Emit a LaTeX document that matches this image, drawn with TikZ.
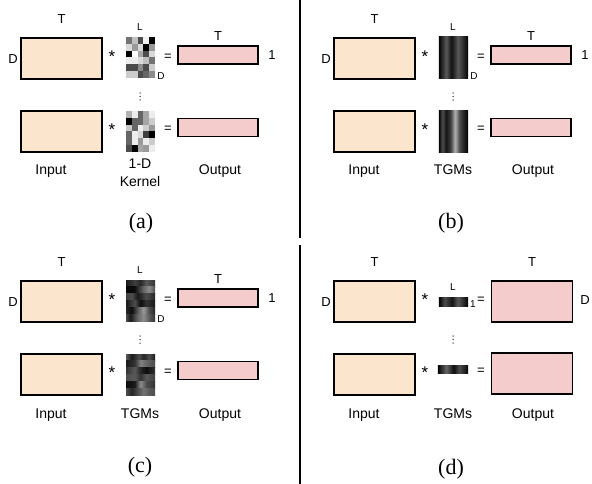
\documentclass[tikz,border=0pt]{standalone}
\usepackage{fontspec}
\setmainfont{Liberation Sans}
\newfontfamily\capfont{Liberation Serif}
\definecolor{infill}{HTML}{FCE5CD}
\definecolor{outfill}{HTML}{F4CCCC}
% TGM shadings (stops from 25bp to 75bp fill the path)
\pgfdeclarehorizontalshading{bT}{100bp}{color(0bp)=(black); color(25bp)=(black); color(29bp)=(black!88); color(37.5bp)=(black!65); color(46bp)=(black!92); color(50bp)=(black!85); color(57.5bp)=(black!65); color(65bp)=(black!80); color(71bp)=(black!92); color(75bp)=(black); color(100bp)=(black)}
\pgfdeclarehorizontalshading{bB}{100bp}{color(0bp)=(black); color(25bp)=(black); color(31bp)=(black!70); color(37.5bp)=(black!92); color(45bp)=(black!75); color(52.5bp)=(black!30); color(60bp)=(black!70); color(69bp)=(black!90); color(75bp)=(black); color(100bp)=(black)}
\pgfdeclarehorizontalshading{dT}{100bp}{color(0bp)=(black); color(25bp)=(black); color(35bp)=(black!70); color(47.5bp)=(black!92); color(57.5bp)=(black!65); color(67.5bp)=(black!85); color(75bp)=(black); color(100bp)=(black)}
\pgfdeclarehorizontalshading{dB}{100bp}{color(0bp)=(black); color(25bp)=(black); color(30bp)=(black!85); color(39bp)=(black!60); color(47.5bp)=(black!85); color(51bp)=(black!95); color(60bp)=(black!70); color(70bp)=(black!88); color(75bp)=(black); color(100bp)=(black)}
\pgfdeclarehorizontalshading{c1}{100bp}{color(0bp)=(black!90); color(25bp)=(black!90); color(40bp)=(black!75); color(50bp)=(black!85); color(60bp)=(black!65); color(75bp)=(black!80); color(100bp)=(black!80)}
\pgfdeclarehorizontalshading{c2}{100bp}{color(0bp)=(black!98); color(25bp)=(black!98); color(40bp)=(black!95); color(55bp)=(black!60); color(65bp)=(black!45); color(75bp)=(black!70); color(100bp)=(black!70)}
\pgfdeclarehorizontalshading{c3}{100bp}{color(0bp)=(black!75); color(25bp)=(black!75); color(35bp)=(black!70); color(45bp)=(black!90); color(60bp)=(black!70); color(75bp)=(black!85); color(100bp)=(black!85)}
\pgfdeclarehorizontalshading{c4}{100bp}{color(0bp)=(black!90); color(25bp)=(black!90); color(40bp)=(black!70); color(50bp)=(black!95); color(60bp)=(black!80); color(75bp)=(black!90); color(100bp)=(black!90)}
\pgfdeclarehorizontalshading{c5}{100bp}{color(0bp)=(black!85); color(25bp)=(black!85); color(35bp)=(black!95); color(45bp)=(black!65); color(55bp)=(black!40); color(65bp)=(black!70); color(75bp)=(black!85); color(100bp)=(black!85)}
\pgfdeclarehorizontalshading{c6}{100bp}{color(0bp)=(black!70); color(25bp)=(black!70); color(32.5bp)=(black!90); color(45bp)=(black!60); color(55bp)=(black!45); color(65bp)=(black!65); color(75bp)=(black!80); color(100bp)=(black!80)}
\pgfdeclarehorizontalshading{e1}{100bp}{color(0bp)=(black!65); color(25bp)=(black!65); color(35bp)=(black!90); color(47.5bp)=(black!70); color(55bp)=(black!85); color(65bp)=(black!70); color(75bp)=(black!90); color(100bp)=(black!90)}
\pgfdeclarehorizontalshading{e2}{100bp}{color(0bp)=(black!90); color(25bp)=(black!90); color(40bp)=(black!80); color(50bp)=(black!50); color(60bp)=(black!60); color(75bp)=(black!70); color(100bp)=(black!70)}
\pgfdeclarehorizontalshading{e3}{100bp}{color(0bp)=(black!80); color(25bp)=(black!80); color(40bp)=(black!65); color(50bp)=(black!85); color(60bp)=(black!95); color(75bp)=(black!80); color(100bp)=(black!80)}
\pgfdeclarehorizontalshading{e4}{100bp}{color(0bp)=(black!70); color(25bp)=(black!70); color(40bp)=(black!65); color(50bp)=(black!80); color(60bp)=(black!65); color(75bp)=(black!75); color(100bp)=(black!75)}
\pgfdeclarehorizontalshading{e5}{100bp}{color(0bp)=(black!95); color(25bp)=(black!95); color(40bp)=(black!90); color(50bp)=(black!45); color(60bp)=(black!70); color(75bp)=(black!80); color(100bp)=(black!80)}
\pgfdeclarehorizontalshading{e6}{100bp}{color(0bp)=(black!70); color(25bp)=(black!70); color(35bp)=(black!85); color(45bp)=(black!70); color(55bp)=(black!55); color(65bp)=(black!65); color(75bp)=(black!70); color(100bp)=(black!70)}

\tikzset{
  inbox/.style={draw=black, line width=1.1pt, fill=infill, minimum width=81pt, minimum height=41pt, inner sep=0pt},
  outbox/.style={draw=black, line width=1.1pt, fill=outfill, minimum width=80pt, minimum height=18pt, inner sep=0pt},
  lbl/.style={font=\fontsize{13}{15}\selectfont, inner sep=0pt},
  startext/.style={font=\fontsize{17}{19}\selectfont, inner sep=0pt},
  sml/.style={font=\fontsize{10}{12}\selectfont, inner sep=0pt},
  btm/.style={font=\fontsize{14}{16}\selectfont, inner sep=0pt, anchor=base},
  captext/.style={font=\capfont\fontsize{22}{26}\selectfont, inner sep=0pt, anchor=base},
  kern/.style={inner sep=0pt, minimum width=29pt, minimum height=41pt},
  dotmark/.style={fill=black!75, draw=none},
  divider/.style={line width=1.5pt, black}
}

\newcommand\mybase{%
  \node[inbox] (in1) at (61.5,58.5) {};
  \node[inbox] (in2) at (61.5,131.5) {};
  \node[lbl] (tin) at (61.5,19) {T};
  \node[lbl] (din) at (13,59) {D};
  \node[startext] (star1) at (112,57) {*};
  \node[startext] (star2) at (112,130) {*};
  \node[lbl] (eq1) at (168,57) {=};
  \foreach \yy in {93,96.5,100} \fill[dotmark] (140,\yy) circle (0.75);
  \node[btm] (lin) at (51,175) {Input};
  \node[btm] (lout) at (220,175) {Output};
}
\newcommand\myabc{%
  \mybase
  \node[outbox] (out1) at (218,55) {};
  \node[outbox] (out2) at (218,127.5) {};
  \node[lbl] (tout) at (218,36) {T};
  \node[lbl] (one) at (272,55) {1};
  \node[lbl] (eq2) at (168,129) {=};
  \node[sml] (L) at (140,27) {L};
  \node[sml] (dk) at (161,76) {D};
  \node[kern] (k1) at (140.5,57.5) {};
  \node[kern] (k2) at (140.5,131.5) {};
}

\begin{document}
\begin{tikzpicture}[x=1pt,y=-1pt]
\useasboundingbox (0,0) rectangle (592,484);
\fill[white] (0,0) rectangle (592,484);

% dividers
\draw[divider] (300,0) -- (300,238);
\draw[divider] (300,245) -- (300,484);

% ---------- (a)
\begin{scope}[name prefix=a-]
  \myabc
  \foreach \row [count=\r from 0] in {{0.45,0.75,0.3,0.95,0},{0.85,0.6,0.85,0,0.6},{0,1,0.65,0.3,0.85},{0.93,0.93,0.85,0.75,0.45},{0.3,0.3,0.55,0.3,0.8},{0.8,0.8,0.3,0.4,0.55}}{
    \foreach \g [count=\c from 0] in \row {
      \definecolor{cellc}{gray}{\g}
      \fill[cellc] ({126+\c*5.8},{37+\r*41/6}) rectangle ++(5.85,6.9);
    }
  }
  \foreach \row [count=\r from 0] in {{0.7,0.93,0.4,0.65,0.93},{0,0.4,0.4,0.65,0.8},{0.78,0.4,0.93,0.8,0.6},{0.4,0.93,0.85,0.25,0},{0.4,0.93,0.6,0.93,0.8},{0.3,0,0.65,0.6,0.93}}{
    \foreach \g [count=\c from 0] in \row {
      \definecolor{cellc}{gray}{\g}
      \fill[cellc] ({126+\c*5.8},{111+\r*41/6}) rectangle ++(5.85,6.9);
    }
  }
  \node[btm] (lk1) at (140,168) {1-D};
  \node[btm] (lk2) at (140,186) {Kernel};
  \node[captext] (cp) at (141,229) {(a)};
\end{scope}

% ---------- (b)
\begin{scope}[shift={(313,0)}, name prefix=b-]
  \myabc
  \shade[shading=bT] (k1.north west) rectangle (k1.south east);
  \shade[shading=bB] (k2.north west) rectangle (k2.south east);
  \node[btm] (lk) at (140,175) {TGMs};
  \node[captext] (cp) at (138,229) {(b)};
\end{scope}

% ---------- (c)
\begin{scope}[shift={(0,243)}, name prefix=c-]
  \myabc
  \foreach \sh [count=\r from 0] in {c1,c2,c3,c4,c5,c6}
    \shade[shading=\sh] (126,{37+\r*41/6}) rectangle ++(29,7);
  \foreach \sh [count=\r from 0] in {e1,e2,e3,e4,e5,e6}
    \shade[shading=\sh] (126,{111+\r*41/6}) rectangle ++(29,7);
  \node[btm] (lk) at (140,175) {TGMs};
  \node[captext] (cp) at (140,229) {(c)};
\end{scope}

% ---------- (d)
\begin{scope}[shift={(313,243)}, name prefix=d-]
  \mybase
  \node[inbox, fill=outfill] (out1) at (219,58.5) {};
  \node[inbox, fill=outfill] (out2) at (219,130.5) {};
  \node[lbl] (tout) at (219,19) {T};
  \node[lbl] (dout) at (272,57) {D};
  \node[lbl] (eq2) at (168,128) {=};
  \node[kern, minimum height=8pt] (k1) at (140.5,59) {};
  \node[kern, minimum width=30pt, minimum height=7pt] (k2) at (140,126.5) {};
  \shade[shading=dT] (k1.north west) rectangle (k1.south east);
  \shade[shading=dB] (k2.north west) rectangle (k2.south east);
  \node[sml] (L) at (140,44) {L};
  \node[sml] (one) at (160,61) {1};
  \node[btm] (lk) at (140,175) {TGMs};
  \node[captext] (cp) at (138,231) {(d)};
\end{scope}
\end{tikzpicture}
\end{document}
